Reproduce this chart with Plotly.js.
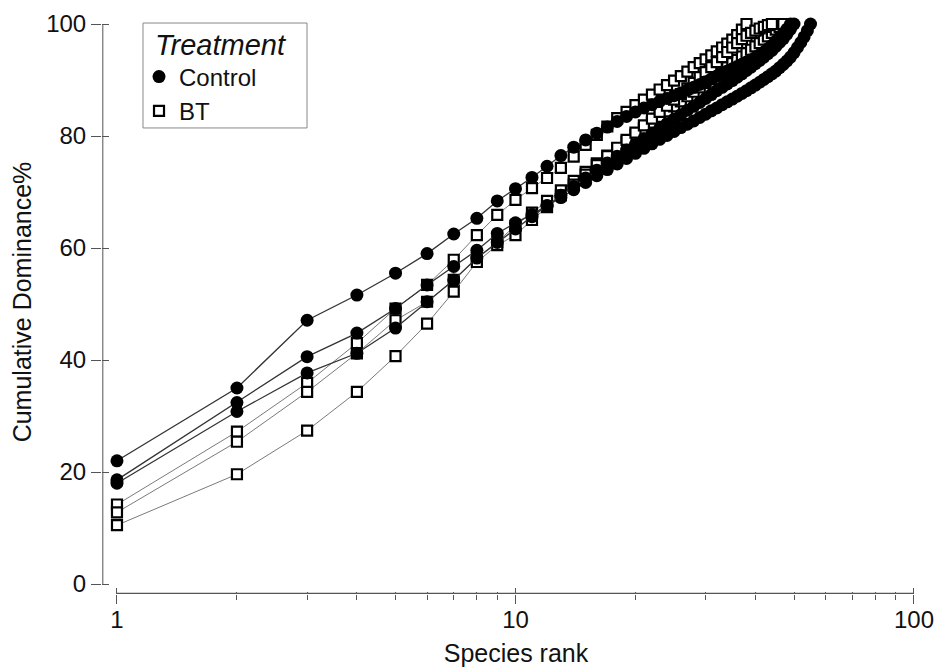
<!DOCTYPE html>
<html>
<head>
<meta charset="utf-8">
<script src="https://cdn.plot.ly/plotly-3.0.1.min.js"></script>
<style>html,body{margin:0;padding:0;background:#fff;}#chart{width:938px;height:667px;}</style>
</head>
<body>
<div id="chart"></div>
<script>
// Cumulative dominance (%) by species rank, one array per replicate curve
var control1 = [22.0, 35.0, 47.1, 51.6, 55.5, 59.0, 62.5, 65.3, 68.4, 70.6, 72.6, 74.6, 76.5, 78.0, 79.3, 80.5, 81.6, 82.6, 83.5, 84.3, 85.0, 85.6, 86.2, 86.7, 87.2, 87.7, 88.2, 88.7, 89.2, 89.7, 90.2, 90.7, 91.2, 91.6, 92.0, 92.4, 92.8, 93.2, 93.6, 94.0, 94.5, 95.0, 95.6, 96.2, 96.9, 97.6, 98.3, 99.1, 100];
var control2 = [18.6, 32.4, 40.6, 44.8, 49.2, 53.4, 56.7, 59.6, 62.6, 64.5, 66.0, 67.5, 69.0, 70.4, 71.7, 72.9, 74.0, 75.0, 76.0, 76.9, 77.8, 78.6, 79.4, 80.1, 80.8, 81.5, 82.1, 82.7, 83.3, 83.9, 84.5, 85.0, 85.6, 86.1, 86.6, 87.1, 87.6, 88.1, 88.6, 89.1, 89.6, 90.1, 90.6, 91.1, 91.6, 92.2, 92.8, 93.4, 94.1, 94.9, 95.8, 96.7, 97.7, 98.8, 100];
var control3 = [18.0, 30.8, 37.7, 41.2, 45.7, 50.4, 54.3, 58.2, 61.0, 63.4, 65.6, 67.6, 69.4, 71.0, 72.5, 73.9, 75.2, 76.4, 77.5, 78.5, 79.5, 80.4, 81.3, 82.2, 83.0, 83.8, 84.6, 85.3, 86.0, 86.7, 87.4, 88.1, 88.7, 89.3, 89.9, 90.5, 91.1, 91.7, 92.3, 92.9, 93.5, 94.1, 94.7, 95.3, 96.0, 96.7, 97.4, 98.2, 99.1, 100];
var bt1 = [14.2, 27.2, 35.9, 43.0, 49.2, 53.4, 57.9, 62.3, 65.9, 68.6, 70.7, 72.5, 74.3, 76.3, 78.4, 80.2, 81.7, 83.2, 84.3, 85.5, 86.5, 87.4, 88.3, 89.1, 89.9, 90.7, 91.5, 92.3, 93.0, 93.7, 94.4, 95.1, 95.8, 96.5, 97.2, 98.0, 99.0, 100];
var bt2 = [12.8, 25.4, 34.3, 41.2, 47.1, 50.4, 54.3, 58.2, 61.1, 64.0, 66.3, 68.4, 70.3, 72.0, 73.6, 75.1, 76.5, 77.8, 79.0, 80.2, 81.3, 82.4, 83.4, 84.4, 85.3, 86.2, 87.1, 87.9, 88.7, 89.5, 90.2, 90.9, 91.6, 92.3, 93.0, 93.6, 94.2, 94.8, 95.4, 96.0, 96.6, 97.2, 97.8, 98.4, 99.0, 99.5, 100];
var bt3 = [10.5, 19.6, 27.4, 34.3, 40.7, 46.5, 52.2, 57.5, 60.5, 62.3, 65.0, 67.3, 69.4, 71.3, 73.1, 74.8, 76.4, 77.9, 79.3, 80.6, 81.9, 83.1, 84.3, 85.4, 86.5, 87.5, 88.5, 89.5, 90.5, 91.4, 92.3, 93.2, 94.1, 95.0, 95.8, 96.6, 97.3, 97.9, 98.4, 98.8, 99.2, 99.5, 99.8, 100];

var controlSeries = [control1, control2, control3];
var btSeries = [bt1, bt2, bt3];
var treatmentNames = ["Control", "BT"];
var legendTitle = "Treatment";
var yTickVals = [0, 20, 40, 60, 80, 100];
var xMajorTicks = [1, 10, 100];
var xMajorText = ["1", "10", "100"];
var xMinorTicks = [2, 3, 4, 5, 6, 7, 8, 9, 20, 30, 40, 50, 60, 70, 80, 90];

function ranks(arr) { var r = []; for (var i = 0; i < arr.length; i++) r.push(i + 1); return r; }

var FONT = "Liberation Sans, Arial, sans-serif";
var traces = [];
btSeries.forEach(function (s) {
  traces.push({
    x: ranks(s), y: s, mode: "lines+markers", type: "scatter", showlegend: false, hoverinfo: "x+y",
    line: { color: "#7a7a7a", width: 1 },
    marker: { symbol: "square", size: 10, color: "#ffffff", line: { color: "#000000", width: 2.2 } },
    cliponaxis: false
  });
});
controlSeries.forEach(function (s) {
  traces.push({
    x: ranks(s), y: s, mode: "lines+markers", type: "scatter", showlegend: false, hoverinfo: "x+y",
    line: { color: "#333333", width: 1.3 },
    marker: { symbol: "circle", size: 13, color: "#000000", line: { width: 0 } },
    cliponaxis: false
  });
});
// legend entries (marker only)
traces.push({ x: [null], y: [null], mode: "markers", type: "scatter", name: treatmentNames[0],
  marker: { symbol: "circle", size: 13, color: "#000" } });
traces.push({ x: [null], y: [null], mode: "markers", type: "scatter", name: treatmentNames[1],
  marker: { symbol: "square", size: 10, color: "#fff", line: { color: "#000", width: 2.2 } } });
// overlay axes for inner tick halves
traces.push({ x: [null], y: [null], xaxis: "x2", yaxis: "y2", mode: "markers", showlegend: false, hoverinfo: "skip" });

var xr = [-0.0376, 2.0402];
var yr = [-1.786, 102.5];
var tickCol = "#555";
function xPaper(v) { return (Math.log10(v) - xr[0]) / (xr[1] - xr[0]); }

var layout = {
  width: 938, height: 667,
  margin: { l: 102, r: 8, t: 10, b: 73 },
  paper_bgcolor: "#fff", plot_bgcolor: "#fff",
  font: { family: FONT, color: "#111", size: 22 },
  showlegend: true,
  legend: {
    x: 0.0447, y: 0.8562, xanchor: "left", yanchor: "middle",
    bgcolor: "rgba(0,0,0,0)", borderwidth: 0,
    font: { family: FONT, size: 24, color: "#111" },
    itemsizing: "trace", tracegroupgap: 0
  },
  annotations: [
    { text: legendTitle, xref: "paper", yref: "paper", x: 0.0616, y: 0.940, xanchor: "left", yanchor: "middle",
      showarrow: false, font: { family: FONT, size: 29, style: "italic", color: "#111" } }
  ],
  xaxis: {
    type: "log", range: xr, showgrid: false, zeroline: false, showline: false,
    tickmode: "array", tickvals: xMajorTicks, ticktext: xMajorText,
    ticks: "outside", ticklen: 9, tickwidth: 1, tickcolor: tickCol, ticklabelstandoff: -5,
    minor: { tickmode: "array", tickvals: xMinorTicks, ticks: "outside", ticklen: 5, tickwidth: 1, tickcolor: tickCol, showgrid: false },
    tickfont: { family: FONT, size: 24, color: "#111" },
    title: { text: "Species rank", font: { family: FONT, size: 25, color: "#111" }, standoff: 14 }
  },
  yaxis: {
    range: yr, showgrid: false, zeroline: false, showline: false,
    tickmode: "array", tickvals: yTickVals,
    ticks: "outside", ticklen: 10, tickwidth: 1, tickcolor: tickCol,
    tickfont: { family: FONT, size: 24, color: "#111" },
    title: { text: "Cumulative Dominance%", font: { family: FONT, size: 25, color: "#111" }, standoff: 7 }
  },
  xaxis2: {
    type: "log", range: xr, overlaying: "x", side: "bottom", showgrid: false, zeroline: false, showline: false,
    tickmode: "array", tickvals: xMajorTicks, showticklabels: false,
    ticks: "inside", ticklen: 6, tickwidth: 1, tickcolor: tickCol,
    minor: { tickmode: "array", tickvals: xMinorTicks, ticks: "inside", ticklen: 2, tickwidth: 1, tickcolor: tickCol, showgrid: false }
  },
  yaxis2: {
    range: yr, overlaying: "y", side: "left", showgrid: false, zeroline: false, showline: false,
    tickmode: "array", tickvals: yTickVals, showticklabels: false,
    ticks: "inside", ticklen: 7, tickwidth: 1, tickcolor: tickCol
  },
  shapes: [
    { type: "line", xref: "paper", yref: "y", x0: 0.001, x1: 0.001, y0: yTickVals[0], y1: yTickVals[yTickVals.length - 1], line: { color: tickCol, width: 1 } },
    { type: "line", xref: "paper", yref: "y", x0: xPaper(xMajorTicks[0]), x1: xPaper(xMajorTicks[xMajorTicks.length - 1]), y0: yr[0] + 0.12, y1: yr[0] + 0.12, line: { color: tickCol, width: 1.2 } },
    { type: "rect", xref: "paper", yref: "paper", x0: 0.0495, x1: 0.2476, y0: 0.798, y1: 0.9777, fillcolor: "#fff", line: { color: "#888", width: 1 }, layer: "below" }
  ]
};

Plotly.newPlot("chart", traces, layout, { displayModeBar: false, staticPlot: true });
</script>
</body>
</html>
